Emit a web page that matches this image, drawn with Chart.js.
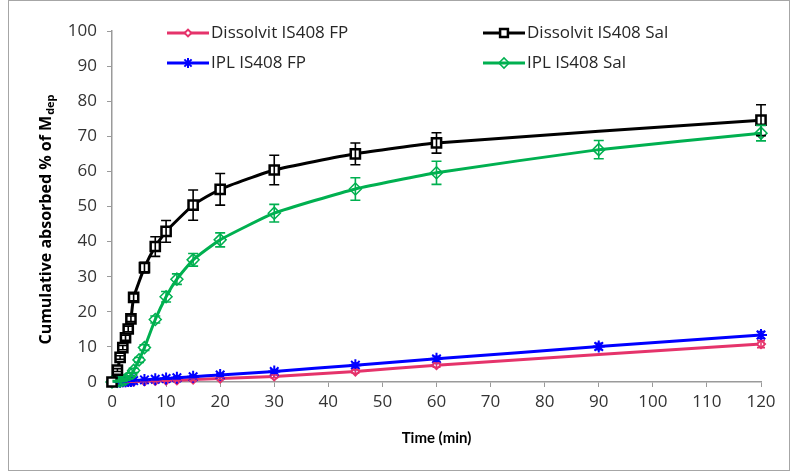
<!DOCTYPE html>
<html>
<head>
<meta charset="utf-8">
<script src="https://cdn.jsdelivr.net/npm/chart.js@4.4.1/dist/chart.umd.min.js"></script>
<style>
  html, body { margin: 0; padding: 0; background: #fff; }
  #wrapper { position: relative; width: 791px; height: 471px; }
  #frame { position: absolute; left: 8px; top: 0px; width: 780px; height: 469px; border: 1px solid #a6a6a6; pointer-events: none; }
  canvas { position: absolute; left: 0; top: 0; }
</style>
</head>
<body>
<div id="wrapper">
  <canvas id="grafico" width="791" height="471"></canvas>
  <div id="frame"></div>
</div>
<script>
"use strict";

// tempi di campionamento (min) per ogni serie
const tDissFp  = [0, 1, 1.5, 2, 2.5, 3, 3.5, 4, 6, 8, 10, 12, 15, 20, 30, 45, 60, 120];
const tDissSal = [0, 1, 1.5, 2, 2.5, 3, 3.5, 4, 6, 8, 10, 15, 20, 30, 45, 60, 120];
const tIplFp   = [0, 1, 1.5, 2, 2.5, 3, 3.5, 4, 6, 8, 10, 12, 15, 20, 30, 45, 60, 90, 120];
const tIplSal  = [0, 1, 1.5, 2, 2.5, 3, 3.5, 4, 5, 6, 8, 10, 12, 15, 20, 30, 45, 60, 90, 120];

// valori medi (% assorbita cumulativa)
const dissFp  = [0, 0, 0, 0, 0, 0.05, 0.1, 0.1, 0.2, 0.3, 0.4, 0.5, 0.7, 1.0, 1.6, 3.0, 4.8, 10.8];
const dissSal = [0, 3.4, 7.0, 9.8, 12.6, 15.1, 18.0, 24.1, 32.6, 38.6, 42.9, 50.4, 54.9, 60.4, 65.0, 68.1, 74.6];
const iplFp   = [0, 0.1, 0.1, 0.2, 0.2, 0.3, 0.3, 0.4, 0.6, 0.8, 1.0, 1.2, 1.5, 2.0, 3.0, 4.8, 6.6, 10.1, 13.4];
const iplSal  = [0, 0.2, 0.3, 0.5, 0.8, 1.3, 2.0, 3.3, 6.3, 9.8, 17.8, 24.3, 29.3, 34.8, 40.5, 48.1, 55.0, 59.6, 66.2, 70.9];

// deviazioni standard (barre di errore)
const dissFpErr  = [0, 0, 0, 0, 0, 0.1, 0.1, 0.1, 0.1, 0.2, 0.2, 0.2, 0.3, 0.3, 0.4, 0.5, 0.6, 1.0];
const dissSalErr = [0, 0.4, 0.5, 0.6, 0.7, 0.8, 0.8, 1.0, 1.5, 2.8, 3.1, 4.3, 4.5, 4.2, 3.1, 2.9, 4.4];
const iplFpErr   = [0, 0.1, 0.1, 0.1, 0.1, 0.1, 0.1, 0.1, 0.2, 0.2, 0.2, 0.3, 0.3, 0.4, 0.5, 0.6, 0.7, 0.9, 1.0];
const iplSalErr  = [0, 0.2, 0.2, 0.3, 0.3, 0.4, 0.5, 0.6, 0.7, 0.8, 1.0, 1.5, 1.5, 1.8, 2.0, 2.5, 3.2, 3.3, 2.6, 2.2];

const xTicks = [0, 10, 20, 30, 40, 50, 60, 70, 80, 90, 100, 110, 120];
const yTicks = [0, 10, 20, 30, 40, 50, 60, 70, 80, 90, 100];

const FONT = "'Open Sans', 'Noto Sans', sans-serif";
const FONT_X = "Lato, 'Open Sans', sans-serif";

function punti(t, v) {
    let out = [];
    for (let i = 0; i < t.length; i++) out.push({ x: t[i], y: v[i] });
    return out;
}

const serie = [
    { label: "Dissolvit IS408 FP", t: tDissFp, v: dissFp, err: dissFpErr, color: "#e5336b",
      style: "rectRot", radius: 4, fill: "#ffffff", bw: 2, order: 4, cap: 4 },
    { label: "Dissolvit IS408 Sal", t: tDissSal, v: dissSal, err: dissSalErr, color: "#000000",
      style: "rect", radius: 6.5, fill: "#ffffff", bw: 2.5, order: 1, cap: 5 },
    { label: "IPL IS408 FP", t: tIplFp, v: iplFp, err: iplFpErr, color: "#0000ff",
      style: "star", radius: 6, fill: "#0000ff", bw: 2, order: 3, cap: 4 },
    { label: "IPL IS408 Sal", t: tIplSal, v: iplSal, err: iplSalErr, color: "#00b050",
      style: "rectRot", radius: 6, fill: "rgba(255,255,255,0)", bw: 1.5, order: 2, cap: 5 }
];

// barre di errore disegnate con le scale del grafico
const errorBars = {
    id: "errorBars",
    afterDatasetsDraw(chart) {
        const ctx = chart.ctx;
        const xs = chart.scales.x, ys = chart.scales.y;
        ctx.save();
        serie.forEach(function(s) {
            ctx.strokeStyle = s.color;
            ctx.lineWidth = 1.6;
            for (let i = 0; i < s.t.length; i++) {
                if (!s.err[i]) continue;
                const px = xs.getPixelForValue(s.t[i]);
                const top = ys.getPixelForValue(s.v[i] + s.err[i]);
                const bot = ys.getPixelForValue(Math.max(0, s.v[i] - s.err[i]));
                ctx.beginPath();
                ctx.moveTo(px, top); ctx.lineTo(px, bot);
                ctx.moveTo(px - s.cap, top); ctx.lineTo(px + s.cap, top);
                ctx.moveTo(px - s.cap, bot); ctx.lineTo(px + s.cap, bot);
                ctx.stroke();
            }
        });
        ctx.restore();
    }
};

// legenda su due colonne, titoli degli assi (con pedice)
const decorazioni = {
    id: "decorazioni",
    afterDraw(chart) {
        const ctx = chart.ctx;
        const area = chart.chartArea;
        ctx.save();

        const pos = [[167, 33], [483, 33], [167, 63], [483, 63]];
        serie.forEach(function(s, i) {
            const x0 = pos[i][0], y0 = pos[i][1];
            ctx.strokeStyle = s.color;
            ctx.lineWidth = 3;
            ctx.beginPath();
            ctx.moveTo(x0, y0); ctx.lineTo(x0 + 42, y0);
            ctx.stroke();
            ctx.fillStyle = s.fill;
            ctx.strokeStyle = s.color;
            ctx.lineWidth = s.bw;
            Chart.helpers.drawPoint(ctx, { pointStyle: s.style, radius: s.radius * 0.85, borderWidth: s.bw }, x0 + 21, y0);
            ctx.fillStyle = "#262626";
            ctx.font = "17px " + FONT;
            ctx.textAlign = "left";
            ctx.textBaseline = "middle";
            ctx.fillText(s.label, x0 + 44, y0);
        });

        // titolo asse x
        ctx.fillStyle = "#000";
        ctx.font = "bold 15px " + FONT_X;
        ctx.textAlign = "center";
        ctx.textBaseline = "middle";
        ctx.fillText("Time (min)", (area.left + area.right) / 2, 438);

        // titolo asse y ruotato con pedice "dep"
        const main = "Cumulative absorbed % of M";
        const sub = "dep";
        ctx.font = "bold 16px " + FONT;
        const wMain = ctx.measureText(main).width;
        ctx.font = "bold 11px " + FONT;
        const wSub = ctx.measureText(sub).width;
        ctx.translate(46, 220);
        ctx.rotate(-Math.PI / 2);
        const start = -(wMain + wSub) / 2;
        ctx.textAlign = "left";
        ctx.textBaseline = "middle";
        ctx.font = "bold 16px " + FONT;
        ctx.fillText(main, start, 0);
        ctx.font = "bold 11px " + FONT;
        ctx.fillText(sub, start + wMain + 1, 5);
        ctx.restore();
    }
};

const datasets = serie.map(function(s) {
    return {
        label: s.label,
        data: punti(s.t, s.v),
        borderColor: s.color,
        backgroundColor: s.fill,
        borderWidth: 3,
        pointStyle: s.style,
        pointRadius: s.radius,
        pointBorderWidth: s.bw,
        pointBorderColor: s.color,
        pointBackgroundColor: s.fill,
        tension: 0.15,
        order: s.order,
        clip: false
    };
});

let chart = new Chart(document.getElementById("grafico"), {
    type: "line",
    data: { datasets: datasets },
    plugins: [errorBars, decorazioni],
    options: {
        responsive: false,
        animation: false,
        layout: { padding: { left: 0, right: 30, top: 31, bottom: 0 } },
        plugins: {
            legend: { display: false },
            tooltip: { enabled: false }
        },
        scales: {
            x: {
                type: "linear",
                min: xTicks[0],
                max: xTicks[xTicks.length - 1],
                afterBuildTicks(scale) { scale.ticks = xTicks.map(v => ({ value: v })); },
                afterFit(scale) { scale.height = 89; },
                grid: { drawOnChartArea: false, drawTicks: true, tickLength: 5, color: "#9a9a9a", lineWidth: 1 },
                border: { color: "#9a9a9a", width: 1.5 },
                ticks: { color: "#333", font: { family: FONT, size: 17 }, padding: 5, maxRotation: 0 }
            },
            y: {
                type: "linear",
                min: yTicks[0],
                max: yTicks[yTicks.length - 1],
                afterBuildTicks(scale) { scale.ticks = yTicks.map(v => ({ value: v })); },
                afterFit(scale) { scale.width = 112; },
                grid: { drawOnChartArea: false, drawTicks: true, tickLength: 5, color: "#9a9a9a", lineWidth: 1 },
                border: { color: "#9a9a9a", width: 1.5 },
                ticks: { color: "#333", font: { family: FONT, size: 17 }, padding: 10 }
            }
        }
    }
});
</script>
</body>
</html>
